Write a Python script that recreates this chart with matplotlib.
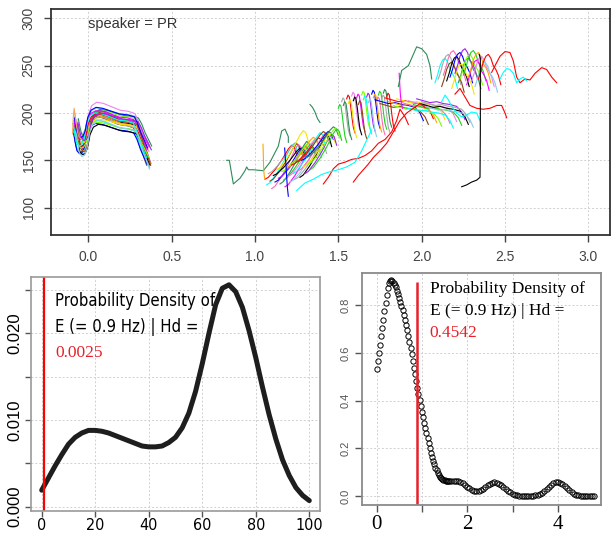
import numpy as np
import matplotlib
matplotlib.use("Agg")
import matplotlib.pyplot as plt
from matplotlib import font_manager
from matplotlib.ticker import FixedLocator, FixedFormatter

W, H, DPI = 612, 538, 100

SANS = "Liberation Sans"
SERIF = "Liberation Serif"
# condensed face if the system has one, else plain sans
cond = [f for f in font_manager.fontManager.ttflist
        if ("Narrow" in f.name or "Condensed" in f.name or f.stretch in ("condensed", "semi-condensed"))]
NARROW = cond[0].name if cond else SANS
NARROW_STRETCH = cond[0].stretch if cond else "normal"

# ---------------- top panel: F0 contours, speaker PR ----------------
PALETTE = ["black", "red", "#1FD21F", "blue", "cyan", "magenta", "#F2E600", "#A8A8A8",
           "orange", "#A020F0", "#8B4513", "#EE82EE", "#2E8B57", "#FF69B4", "#87CEEB", "#7FFF00"]

# syllable 1 (around 0.0 - 0.4 s): shared shape + per-contour shift
a_tx = [-0.08, -0.07, -0.06, -0.045, -0.03, -0.015, 0.0, 0.02, 0.05, 0.09, 0.14, 0.19, 0.24, 0.28, 0.30, 0.32, 0.345, 0.36]
a_ty = [186, 176, 168, 165, 166, 172, 186, 194, 197, 196, 193, 190, 189, 187, 180, 170, 160, 154]
a_dx = [0, .005, -.01, .01, -.005, .015, 0, -.008, .012, .004, -.012, .008, .02, -.003, .006, 0, .01, -.006, .014, .002, -.01, .018, .007, -.004]
a_dy = [0, 4, -3, 7, -6, 2, 10, -8, -2, 5, 3, -4, 8, 1, -1, 12, -9, 6, 0, -5, 2, 4, -7, 9]
a_sy = [1.0, 0.8, 1.2, 0.9, 1.1, 1.3, 0.85, 1.0, 1.15, 0.75, 1.05, 1.25, 0.9, 1.1, 0.8, 1.2, 1.0, 0.95, 1.3, 0.85, 1.1, 0.9, 1.2, 1.0]

# rising band (1.05 - 1.5 s)
b_tx = [0, 0.02, 0.04, 0.06, 0.08, 0.10, 0.12, 0.14, 0.16, 0.175, 0.19]
b_ty = [0, 2, 6, 10, 15, 20, 26, 32, 36, 34, 26]
b_x0 = [1.06, 1.07, 1.08, 1.09, 1.10, 1.11, 1.12, 1.13, 1.14, 1.15, 1.16, 1.17, 1.18, 1.19,
        1.20, 1.21, 1.22, 1.23, 1.24, 1.25, 1.26, 1.27, 1.28, 1.29, 1.30, 1.31, 1.32, 1.33]
b_y0 = [130, 124, 136, 128, 120, 134, 127, 140, 131, 125, 138, 129, 122, 142,
        133, 127, 145, 136, 130, 148, 139, 132, 150, 143, 136, 153, 146, 140]
b_sy = [1.0, 1.2, 0.9, 1.1, 1.3, 0.8, 1.0, 1.15, 0.95, 1.25, 0.85, 1.05, 1.2, 0.9,
        1.1, 1.0, 0.8, 1.2, 1.05, 0.9, 1.1, 1.25, 0.85, 1.0, 1.15, 0.9, 1.05, 1.2]

# falling strokes (1.5 - 1.8 s)
c_tx = [0, 0.008, 0.016, 0.024, 0.032, 0.04, 0.05]
c_ty = [0, 4, 2, -8, -20, -30, -36]
c_x0 = [1.50, 1.52, 1.53, 1.55, 1.56, 1.58, 1.59, 1.61, 1.62, 1.64,
        1.65, 1.67, 1.68, 1.70, 1.71, 1.73, 1.74, 1.76, 1.77, 1.79]
c_y0 = [205, 212, 208, 215, 210, 218, 213, 216, 209, 219,
        214, 217, 211, 220, 216, 213, 219, 215, 221, 217]

# flat band (1.75 - 2.3 s)
d_tx = [0, 0.04, 0.08, 0.12, 0.16, 0.20, 0.24, 0.27, 0.29]
d_ty = [0, -2, -4, -3, -5, -6, -8, -14, -22]
d_x0 = [1.72, 1.75, 1.78, 1.80, 1.83, 1.85, 1.88, 1.90, 1.92, 1.95, 1.97, 1.99, 2.00, 2.02]
d_y0 = [214, 210, 216, 212, 208, 215, 211, 206, 213, 209, 215, 210, 212, 207]

# high syllable (2.1 - 2.5 s)
e_tx = [0, 0.015, 0.03, 0.045, 0.06, 0.075, 0.09, 0.105, 0.12, 0.135]
e_ty = [0, 8, 18, 24, 26, 22, 14, 10, 4, -6]
e_x0 = [2.08, 2.10, 2.12, 2.13, 2.15, 2.17, 2.18, 2.20, 2.22, 2.23, 2.25, 2.27, 2.28, 2.30, 2.32, 2.34]
e_y0 = [232, 236, 228, 240, 234, 238, 226, 242, 232, 236, 240, 230, 238, 234, 228, 236]

# single contours
sg1_x = [0.83, 0.846, 0.87, 0.91, 0.94, 0.95, 0.96, 0.99, 1.05, 1.09, 1.14, 1.16, 1.18, 1.20, 1.20]
sg1_y = [150, 150, 125, 131, 139, 143, 140, 140, 139, 148, 165, 181, 183, 175, 169]
sg2_x = [1.33, 1.345, 1.36, 1.375, 1.39]
sg2_y = [209, 206, 201, 194, 190]
sg3_x = [1.86, 1.88, 1.92, 1.95, 1.97, 2.00, 2.03, 2.05, 2.06]
sg3_y = [228, 245, 250, 262, 270, 268, 262, 250, 236]
red1_x = [1.41, 1.44, 1.47, 1.50, 1.54, 1.58, 1.62, 1.66, 1.70, 1.74, 1.78, 1.82, 1.85, 1.87, 1.90, 1.92]
red1_y = [125, 132, 141, 146, 148, 151, 152, 155, 160, 168, 172, 180, 192, 204, 196, 188]
red2_x = [1.59, 1.62, 1.65, 1.68, 1.71, 1.75, 1.79, 1.83, 1.87, 1.91, 1.95, 1.99, 2.02]
red2_y = [127, 134, 140, 146, 153, 160, 168, 180, 192, 200, 205, 210, 206]
red3_x = [2.20, 2.23, 2.26, 2.29, 2.33, 2.37, 2.41, 2.45, 2.48, 2.50, 2.51]
red3_y = [220, 226, 217, 208, 205, 204, 205, 208, 208, 200, 195]
red4_x = [2.42, 2.44, 2.47, 2.50, 2.53, 2.55, 2.57, 2.59, 2.62, 2.65, 2.68, 2.72, 2.75, 2.78, 2.81]
red4_y = [243, 250, 260, 265, 264, 255, 238, 232, 236, 235, 242, 248, 246, 238, 232]
cy1_x = [1.25, 1.30, 1.35, 1.40, 1.45, 1.50, 1.55, 1.60, 1.64, 1.68, 1.70]
cy1_y = [118, 126, 130, 135, 138, 140, 143, 148, 160, 175, 182]
cy2_x = [2.12, 2.14, 2.16, 2.18, 2.21, 2.24, 2.27, 2.30, 2.33, 2.35]
cy2_y = [212, 219, 214, 207, 200, 196, 198, 201, 200, 192]
cy3_x = [2.47, 2.49, 2.51, 2.53, 2.55, 2.57, 2.59, 2.61, 2.63]
cy3_y = [236, 243, 247, 246, 242, 232, 236, 238, 234]
blk_x = [2.24, 2.27, 2.30, 2.33, 2.35, 2.352, 2.352, 2.352, 2.345]
blk_y = [122, 124, 127, 129, 132, 180, 230, 258, 262]
org_x = [1.048, 1.05, 1.052, 1.056, 1.06]
org_y = [167, 155, 140, 133, 130]
blu_x = [1.178, 1.182, 1.186, 1.19, 1.195, 1.20]
blu_y = [163, 152, 145, 132, 120, 112]
mag_x = [1.865, 1.868, 1.872, 1.878, 1.885]
mag_y = [242, 232, 220, 210, 205]
org2_x = [-0.095, -0.09, -0.085, -0.075, -0.06, -0.04]
org2_y = [178, 196, 205, 190, 176, 172]

# ---------------- bottom-left: density, Hd = 0.0025 ----------------
left_x = np.arange(41) * 2.5
left_y = [.0019, .0033, .0047, .0060, .0072, .0080, .0085, .0088, .0088, .0087,
          .0085, .0082, .0079, .0076, .0073, .0070, .0069, .0069, .0070, .0074,
          .0080, .0091, .0108, .0133, .0165, .0200, .0233, .0252, .0256, .0248,
          .0230, .0203, .0172, .0138, .0106, .0078, .0054, .0036, .0022, .0013, .0007]
left_hd = "0.0025"

# ---------------- bottom-right: density, Hd = 0.4542 ----------------
right_y1 = [0.535, 0.565, 0.600, 0.635, 0.670, 0.705, 0.740, 0.775, 0.810, 0.845,
            0.872, 0.893, 0.903, 0.905, 0.902, 0.896, 0.887, 0.876, 0.862, 0.847,
            0.831, 0.814, 0.797, 0.779, 0.760, 0.740, 0.719, 0.697, 0.673, 0.648,
            0.622, 0.595, 0.567, 0.539, 0.511, 0.482, 0.454, 0.428, 0.403, 0.379,
            0.355, 0.331, 0.308, 0.285, 0.263, 0.242, 0.221, 0.201, 0.182, 0.164,
            0.148, 0.133, 0.120, 0.108, 0.098, 0.089, 0.081, 0.075, 0.071, 0.068,
            0.066, 0.065, 0.064, 0.064]
right_y2 = [0.064, 0.064, 0.064, 0.064, 0.063, 0.060, 0.055, 0.048, 0.040, 0.033,
            0.027, 0.023, 0.021, 0.022, 0.026, 0.032, 0.039, 0.046, 0.052, 0.056,
            0.058, 0.057, 0.053, 0.047, 0.039, 0.031, 0.023, 0.016, 0.010, 0.006,
            0.003, 0.002, 0.001, 0.001, 0.001, 0.001, 0.001, 0.002, 0.003, 0.005,
            0.009, 0.014, 0.021, 0.030, 0.039, 0.048, 0.055, 0.059, 0.060, 0.057,
            0.051, 0.043, 0.034, 0.025, 0.017, 0.011, 0.007, 0.004, 0.002, 0.001,
            0.001, 0.000, 0.000, 0.000, 0.000]
right_x = np.concatenate([np.arange(len(right_y1)) * 0.025,
                          1.6 + np.arange(len(right_y2)) * 0.05])
right_y = np.array(right_y1 + right_y2)
right_hd = "0.4542"
E_FREQ = 0.9


def box(l, t, r, b):
    return [l / W, 1 - b / H, (r - l) / W, (b - t) / H]


def dotted_grid(ax):
    ax.grid(True, color="#d0d0d0", linestyle=(0, (2, 2)), linewidth=0.7)
    ax.set_axisbelow(True)


fig = plt.figure(figsize=(W / DPI, H / DPI), dpi=DPI)

# ---- top ----
ax = fig.add_axes(box(51, 9, 610, 235))
lw = 0.8
for i, (dx, dy, sy) in enumerate(zip(a_dx, a_dy, a_sy)):
    ys = 185 + (np.array(a_ty) - 185) * sy + dy
    ax.plot(np.array(a_tx) + dx, ys, color=PALETTE[(i * 5) % 16], lw=lw)
ax.plot(org2_x, org2_y, color="#F4A460", lw=lw)
for i, (x0, y0, sy) in enumerate(zip(b_x0, b_y0, b_sy)):
    ax.plot(np.array(b_tx) + x0, np.array(b_ty) * sy + y0, color=PALETTE[(i * 3 + 1) % 16], lw=lw)
for i, (x0, y0) in enumerate(zip(c_x0, c_y0)):
    ax.plot(np.array(c_tx) + x0, np.array(c_ty) + y0, color=PALETTE[(i * 5 + 2) % 16], lw=lw)
for i, (x0, y0) in enumerate(zip(d_x0, d_y0)):
    ax.plot(np.array(d_tx) + x0, np.array(d_ty) + y0, color=PALETTE[(i * 7 + 3) % 16], lw=lw)
for i, (x0, y0) in enumerate(zip(e_x0, e_y0)):
    ax.plot(np.array(e_tx) + x0, np.array(e_ty) + y0, color=PALETTE[(i * 3 + 4) % 16], lw=lw)

singles = [(sg1_x, sg1_y, "#2E8B57"), (sg2_x, sg2_y, "#2E8B57"), (sg3_x, sg3_y, "#2E8B57"),
           (red1_x, red1_y, "red"), (red2_x, red2_y, "red"), (red3_x, red3_y, "red"),
           (red4_x, red4_y, "red"), (cy1_x, cy1_y, "cyan"), (cy2_x, cy2_y, "cyan"),
           (cy3_x, cy3_y, "cyan"), (blk_x, blk_y, "black"), (org_x, org_y, "orange"),
           (blu_x, blu_y, "blue"), (mag_x, mag_y, "magenta")]
for xs, ys, c in singles:
    ax.plot(xs, ys, color=c, lw=lw)

ax.set_xlim(-0.224, 3.13)
ax.set_ylim(71, 310)
ax.set_xticks(np.arange(0, 3.01, 0.5))
ax.set_xticklabels(["0.0", "0.5", "1.0", "1.5", "2.0", "2.5", "3.0"])
ax.set_yticks([100, 150, 200, 250, 300])
ax.tick_params(direction="out", length=5, width=1, colors="#444444", labelsize=10, pad=6)
ax.tick_params(axis="y", labelrotation=90)
for t in ax.get_yticklabels():
    t.set_va("center")
    t.set_fontfamily(SANS)
for t in ax.get_xticklabels():
    t.set_fontfamily(SANS)
for s in ax.spines.values():
    s.set_color("#333333")
    s.set_linewidth(1.3)
dotted_grid(ax)
ax.text(0.0, 294, "speaker = PR", fontsize=10.5, color="#333333", family=SANS, va="center")

# ---- bottom-left ----
ax = fig.add_axes(box(31, 277, 320, 511))
ax.plot(left_x, left_y, color="#1e1e1e", lw=3.6, solid_capstyle="round")
ax.axvline(E_FREQ, color="red", lw=1.6)
ax.set_xlim(-4, 104)
ax.set_ylim(-0.0005, 0.0265)
ax.set_xticks([0, 20, 40, 60, 80, 100])
ax.yaxis.set_major_locator(FixedLocator([0, 0.005, 0.010, 0.015, 0.020, 0.025]))
ax.yaxis.set_major_formatter(FixedFormatter(["0.000", "", "0.010", "", "0.020", ""]))
ax.tick_params(direction="out", length=4, width=1, colors="#555555", labelcolor="black", pad=2)
ax.tick_params(axis="x", labelsize=11.5, pad=1)
ax.tick_params(axis="y", labelsize=12, labelrotation=90)
for t in ax.get_xticklabels():
    t.set_fontfamily(NARROW)
    t.set_fontstretch(NARROW_STRETCH)
for t in ax.get_yticklabels():
    t.set_va("center")
    t.set_fontfamily(SANS)
for s in ax.spines.values():
    s.set_color("#9a9a9a")
    s.set_linewidth(1.2)
dotted_grid(ax)
txt = dict(family=NARROW, fontstretch=NARROW_STRETCH, fontsize=12, va="center")
ax.text(5, 0.0237, "Probability Density of", **txt)
ax.text(5, 0.0207, "E (= 0.9 Hz) | Hd =", **txt)
ax.text(5, 0.01776, left_hd, family=SERIF, fontsize=12.5, color="#E8202A", va="center")

# ---- bottom-right ----
ax = fig.add_axes(box(362, 273, 601, 505))
ax.plot(right_x, right_y, linestyle="none", marker="o", ms=3.8, mfc="none",
        mec="black", mew=0.7)
ax.vlines(E_FREQ, -0.05, 0.90, color="#E8202A", lw=1.8)
ax.set_xlim(-0.32, 4.95)
ax.set_ylim(-0.037, 0.936)
ax.set_xticks([0, 1, 2, 3, 4])
ax.set_xticklabels(["0", "", "2", "", "4"])
ax.set_yticks([0, 0.2, 0.4, 0.6, 0.8])
ax.set_yticklabels(["0.0", "0.2", "0.4", "0.6", "0.8"])
ax.tick_params(direction="out", length=5, width=1, colors="#555555", pad=3)
ax.tick_params(axis="x", labelsize=15, labelcolor="black", pad=2)
ax.tick_params(axis="y", labelsize=8, labelrotation=90, labelcolor="#555555")
for t in ax.get_xticklabels():
    t.set_fontfamily(SERIF)
for t in ax.get_yticklabels():
    t.set_va("center")
    t.set_fontfamily(SANS)
for s in ax.spines.values():
    s.set_color("#8a8a8a")
    s.set_linewidth(1.3)
dotted_grid(ax)
ax.text(1.17, 0.867, "Probability Density of", family=SERIF, fontsize=12.5, va="center")
ax.text(1.17, 0.775, "E (= 0.9 Hz) | Hd =", family=SERIF, fontsize=12.5, va="center")
ax.text(1.17, 0.686, right_hd, family=SERIF, fontsize=12.5, color="#E8202A", va="center")

fig.savefig("out.png", dpi=DPI)
